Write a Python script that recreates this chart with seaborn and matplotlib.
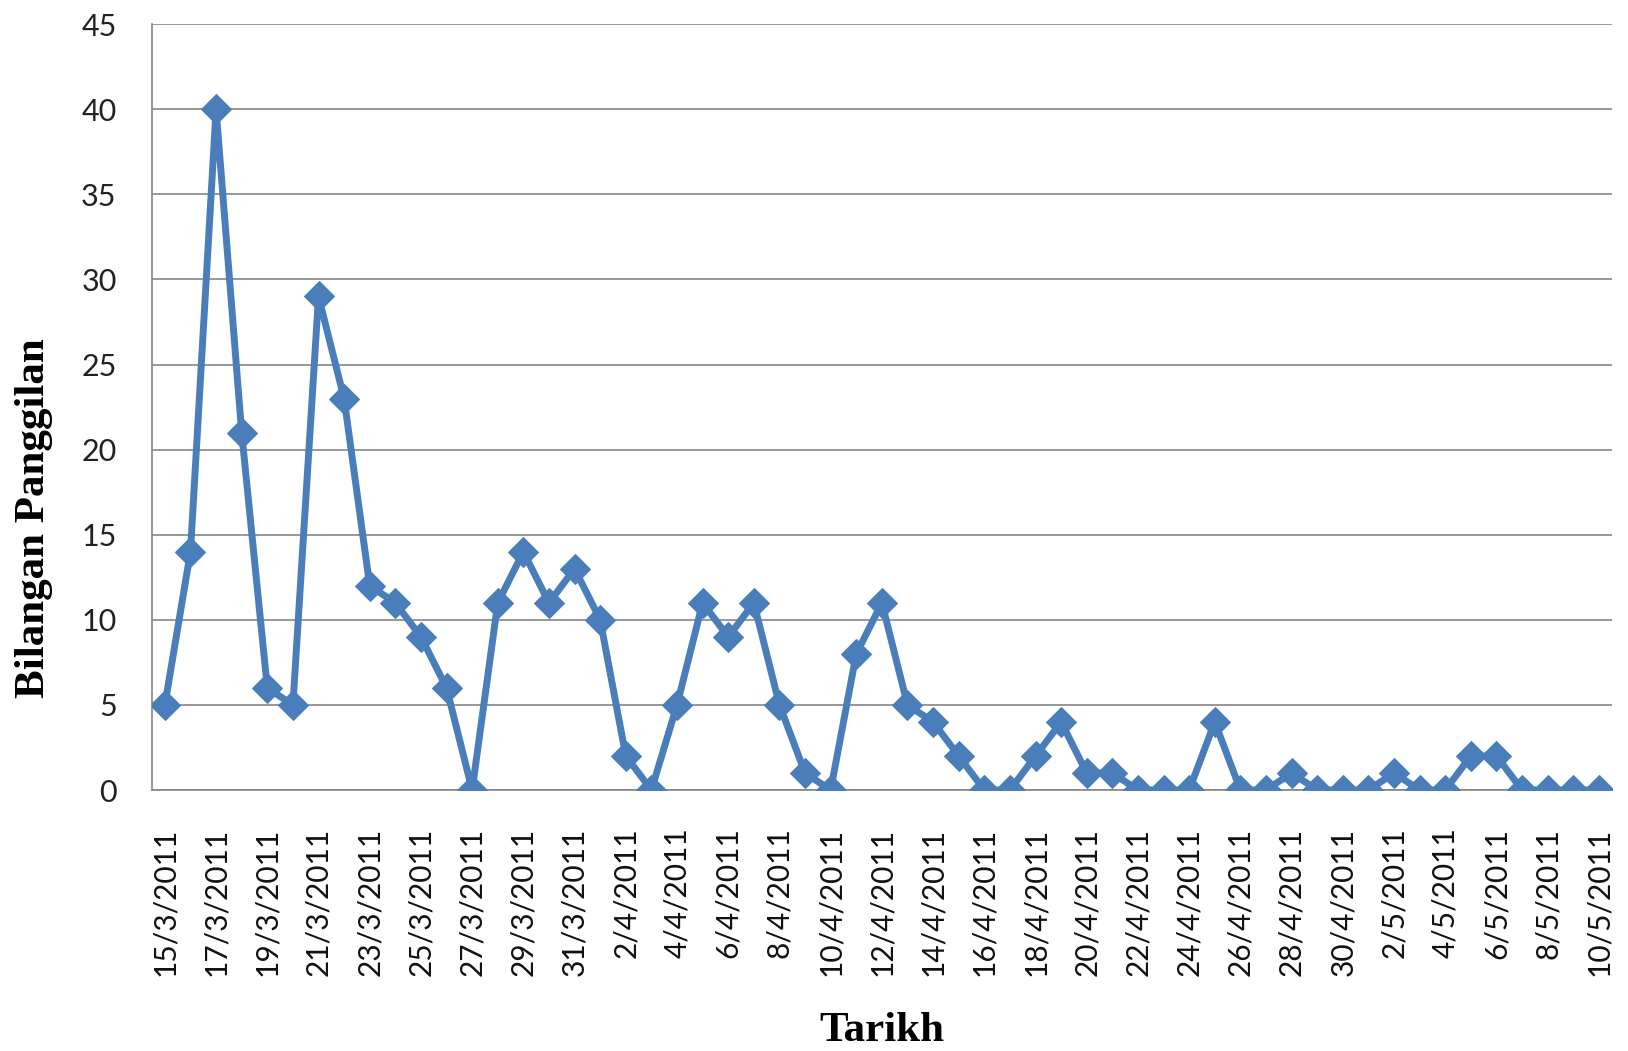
import matplotlib
matplotlib.use("Agg")
import matplotlib.pyplot as plt
import seaborn as sns
import pandas as pd
import numpy as np

dates = (["%d/3/2011" % d for d in range(15, 32)] +
         ["%d/4/2011" % d for d in range(1, 31)] +
         ["%d/5/2011" % d for d in range(1, 11)])
calls = [5, 14, 40, 21, 6, 5, 29, 23, 12, 11, 9, 6, 0, 11, 14, 11, 13,
         10, 2, 0, 5, 11, 9, 11, 5, 1, 0, 8, 11, 5, 4, 2, 0, 0, 2, 4, 1, 1,
         0, 0, 0, 4, 0, 0, 1, 0, 0,
         0, 1, 0, 0, 2, 2, 0, 0, 0, 0]
y_ticks = [0, 5, 10, 15, 20, 25, 30, 35, 40, 45]

df = pd.DataFrame({"Tarikh": dates, "Bilangan Panggilan": calls})

sns.set_style("white")
plt.rcParams['font.family'] = ['Lato', 'DejaVu Sans']

fig = plt.figure(figsize=(16.28, 10.51), dpi=100)
ax = fig.add_axes([0.0934, 0.2483, 0.8966, 0.7287])

grid_c = "#868686"
line_c = "#4A7EBB"

sns.lineplot(data=df, x="Tarikh", y="Bilangan Panggilan", ax=ax, sort=False,
             color=line_c, linewidth=5, marker="D", markersize=15,
             markeredgecolor=line_c, markerfacecolor=line_c, zorder=3)

n = len(dates)
ax.set_xlim(-0.5, n - 0.5)
ax.set_ylim(0, 45)
ax.set_yticks(y_ticks)
ax.set_yticklabels([str(v) for v in y_ticks], fontsize=22, color="#222222")
ax.yaxis.grid(True, color=grid_c, linewidth=1.2)
ax.set_axisbelow(True)

ax.set_xticks(list(range(0, n, 2)))
ax.set_xticklabels([dates[i] for i in range(0, n, 2)], rotation=90,
                   fontsize=21.5, color="#111111")
ax.set_xticks(np.arange(-0.5, n, 1.0), minor=True)
ax.tick_params(axis="x", which="major", length=0, pad=27)
ax.tick_params(axis="x", which="minor", length=7.5, width=1.2, color=grid_c, direction="out")
ax.tick_params(axis="y", which="major", length=7.5, width=1.2, color=grid_c, pad=18, direction="out")

for s in ["top", "right"]:
    ax.spines[s].set_visible(False)
for s in ["left", "bottom"]:
    ax.spines[s].set_color(grid_c)
    ax.spines[s].set_linewidth(1.2)

ax.set_xlabel("Tarikh", fontsize=31, fontweight="bold", family="Liberation Serif", color="black")
ax.set_ylabel("Bilangan Panggilan", fontsize=31, fontweight="bold", family="Liberation Serif", color="black")
ax.xaxis.set_label_coords(0.5, -0.29)
ax.yaxis.set_label_coords(-0.068, 0.355)

fig.savefig("out.png", dpi=100)
